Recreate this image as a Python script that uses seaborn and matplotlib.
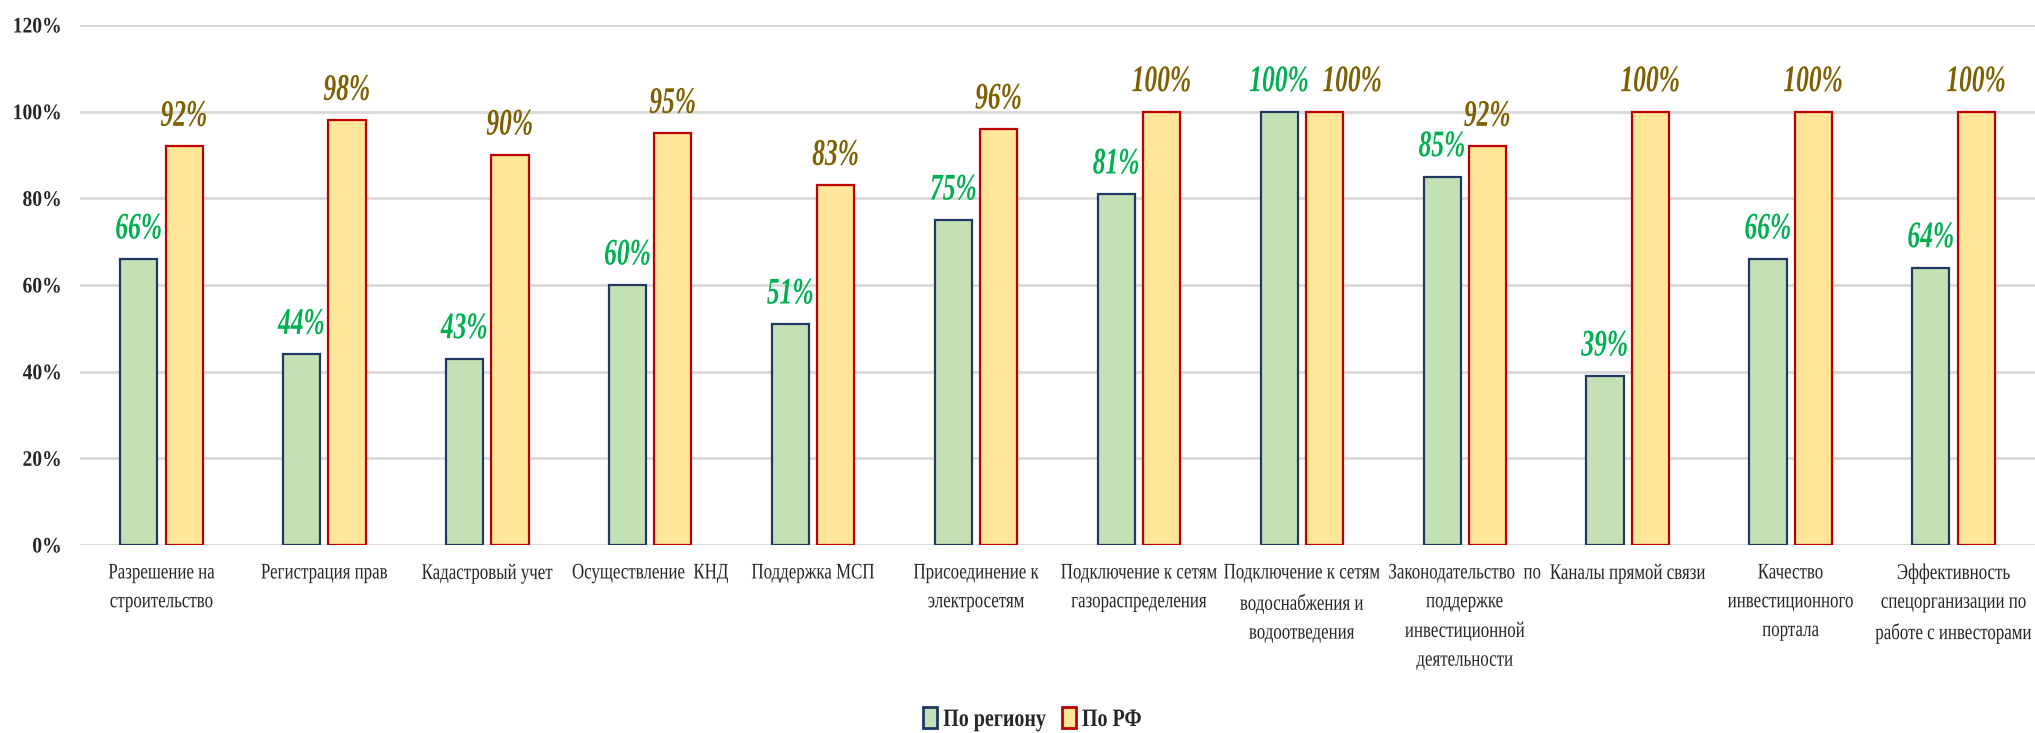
import pandas as pd
import matplotlib
matplotlib.use("Agg")
import matplotlib.pyplot as plt
import matplotlib.patheffects as pe
from matplotlib.transforms import Affine2D
from matplotlib.patches import Patch
import seaborn as sns

# --- DATA ---
categories = [
    "Разрешение на\nстроительство",
    "Регистрация прав",
    "Кадастровый учет",
    "Осуществление  КНД",
    "Поддержка МСП",
    "Присоединение к\nэлектросетям",
    "Подключение к сетям\nгазораспределения",
    "Подключение к сетям\nводоснабжения и\nводоотведения",
    "Законодательство  по\nподдержке\nинвестиционной\nдеятельности",
    "Каналы прямой связи",
    "Качество\nинвестиционного\nпортала",
    "Эффективность\nспецорганизации по\nработе с инвесторами",
]
region_vals = [66, 44, 43, 60, 51, 75, 81, 100, 85, 39, 66, 64]
rf_vals = [92, 98, 90, 95, 83, 96, 100, 100, 92, 100, 100, 100]
series_names = ["По региону", "По РФ"]
y_ticks = [0, 20, 40, 60, 80, 100, 120]

FILL = {"По региону": "#C5E0B4", "По РФ": "#FFE699"}
EDGE = {"По региону": "#1F3864", "По РФ": "#C00000"}
LABEL_COLOR = {"По региону": "#00B050", "По РФ": "#7F6000"}
SERIF = "Liberation Serif"


class Narrow(pe.AbstractPathEffect):
    """Squeeze text horizontally (the original uses a condensed Times)."""
    def __init__(self, sx=0.75, anchor="center"):
        super().__init__()
        self.sx = sx
        self.anchor = anchor

    def draw_path(self, renderer, gc, tpath, affine, rgbFace=None):
        ext = tpath.get_extents()
        cx = {"left": ext.x0, "right": ext.x1}.get(self.anchor, (ext.x0 + ext.x1) / 2)
        squeeze = Affine2D().translate(-cx, 0).scale(self.sx, 1).translate(cx, 0)
        renderer.draw_path(gc, tpath, squeeze + affine, rgbFace)


df = pd.DataFrame({
    "cat": categories * 2,
    "val": region_vals + rf_vals,
    "series": [series_names[0]] * len(categories) + [series_names[1]] * len(categories),
})

sns.set_style("white")
plt.rcParams["font.family"] = [SERIF, "DejaVu Serif"]

fig = plt.figure(figsize=(20.35, 7.33), dpi=100)
ax = fig.add_axes([80 / 2035, 1 - 545 / 733, 1 - 80 / 2035, (545 - 25) / 733])

sns.barplot(data=df, x="cat", y="val", hue="series", order=categories,
            hue_order=series_names, palette=FILL, width=0.556, gap=0.18,
            linewidth=1.6, ax=ax, legend=False, saturation=1)

for name, cont in zip(series_names, ax.containers):
    for bar in cont:
        bar.set_edgecolor(EDGE[name])
    labels = ax.bar_label(cont, labels=[f"{v:.0f}%" for v in cont.datavalues],
                          padding=9, color=LABEL_COLOR[name], fontsize=27,
                          fontweight="bold", fontstyle="italic")
    for t in labels:
        t.set_path_effects([Narrow(0.68)])
    if name == "По РФ":
        # the two 100% labels of one group are pushed apart in the original
        labels[7].xyann = (20, 9)

ax.set_xlim(-0.5, len(categories) - 0.5)
ax.set_ylim(0, 120)
ax.set_yticks(y_ticks)
ax.set_yticklabels([f"{t}%" for t in y_ticks], fontsize=16, fontweight="bold")
for t in ax.get_yticklabels():
    t.set_path_effects([Narrow(0.88, "right")])
ax.tick_params(axis="y", length=0, pad=13)
ax.tick_params(axis="x", length=0, pad=14)
ax.set_xticks(range(len(categories)))
ax.set_xticklabels(categories, fontsize=16, linespacing=1.7)
for t in ax.get_xticklabels():
    t.set_path_effects([Narrow(0.76)])
ax.set_xlabel("")
ax.set_ylabel("")

ax.yaxis.grid(True, color="#D9D9D9", linewidth=2)
ax.set_axisbelow(True)
for s in ax.spines.values():
    s.set_visible(False)

handles = [Patch(facecolor=FILL[n], edgecolor=EDGE[n], linewidth=2) for n in series_names]
leg = fig.legend(handles, series_names, loc="lower center", bbox_to_anchor=(0.511, -0.016),
                 ncol=2, frameon=False, handlelength=0.55, handleheight=0.9,
                 handletextpad=0.25, columnspacing=-0.4, borderpad=0.05,
                 prop={"family": SERIF, "size": 18, "weight": "bold"})
for t in leg.get_texts():
    t.set_path_effects([Narrow(0.8, "left")])

fig.savefig("out.png", dpi=100)
